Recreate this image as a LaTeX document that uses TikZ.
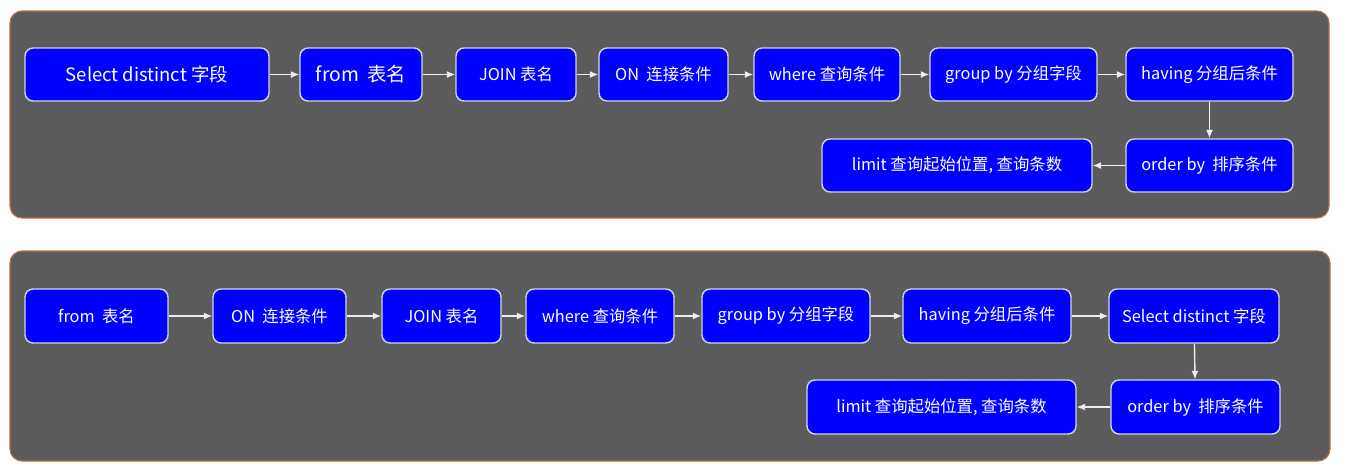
\documentclass[tikz,border=0pt]{standalone}
\usepackage{fontspec}
\usepackage{xcolor}
\usepackage{tikz}
\usetikzlibrary{arrows.meta}
\newfontfamily\cjk{Noto Sans CJK SC}

\definecolor{panelgray}{HTML}{5B5B5B}
\definecolor{paneledge}{HTML}{B8703F}
\definecolor{boxblue}{HTML}{0000FF}
\definecolor{boxedge}{HTML}{D4D4E6}
\definecolor{flowwhite}{HTML}{EEEEEE}

\tikzset{
  panel/.style = {fill=panelgray, draw=paneledge, line width=0.6pt, rounded corners=0.24cm},
  sqlbox/.style = {draw=boxedge, fill=boxblue, line width=0.8pt, rounded corners=0.16cm,
                   inner sep=0pt, text=white, font=\cjk\fontsize{9.3}{11}\selectfont},
  flow/.style = {draw=flowwhite, line width=0.8pt, -{Latex[length=1.7mm,width=1.4mm]}}
}

\begin{document}
\begin{tikzpicture}[x=0.02cm, y=-0.02cm]
   \fill[white] (0,0) rectangle (1353,471);
   \useasboundingbox (0,0) rectangle (1353,471);

   % panels
   \filldraw[panel] (10,11) rectangle (1329,218);
   \filldraw[panel] (10,251) rectangle (1330,461);

   % written order
   \node[sqlbox, minimum width=4.88cm, minimum height=1.06cm, font=\cjk\fontsize{10.5}{12}\selectfont] (t1) at (147,74.5) {Select distinct 字段};
   \node[sqlbox, minimum width=2.44cm, minimum height=1.06cm, font=\cjk\fontsize{11}{13}\selectfont] (t2) at (361,74.5) {from\ \ 表名};
   \node[sqlbox, minimum width=2.40cm, minimum height=1.06cm] (t3) at (516,74.5) {JOIN 表名};
   \node[sqlbox, minimum width=2.58cm, minimum height=1.06cm] (t4) at (663.5,74.5) {ON\ \ 连接条件};
   \node[sqlbox, minimum width=2.92cm, minimum height=1.06cm] (t5) at (827,74.5) {where 查询条件};
   \node[sqlbox, minimum width=3.34cm, minimum height=1.06cm] (t6) at (1013.5,74.5) {group by 分组字段};
   \node[sqlbox, minimum width=3.34cm, minimum height=1.06cm] (t7) at (1209.5,74.5) {having 分组后条件};
   \node[sqlbox, minimum width=3.34cm, minimum height=1.06cm] (t8) at (1209.5,165.5) {order by\ \ 排序条件};
   \node[sqlbox, minimum width=5.40cm, minimum height=1.06cm] (t9) at (957,165.5) {limit 查询起始位置,\ 查询条数};

   \draw[flow] (t1) -- (t2);
   \draw[flow] (t2) -- (t3);
   \draw[flow] (t3) -- (t4);
   \draw[flow] (t4) -- (t5);
   \draw[flow] (t5) -- (t6);
   \draw[flow] (t6) -- (t7);
   \draw[flow] (t7) -- (t8);
   \draw[flow] (t8) -- (t9);

   % execution order
   \node[sqlbox, minimum width=2.86cm, minimum height=1.08cm] (b1) at (96.5,316) {from\ \ 表名};
   \node[sqlbox, minimum width=2.66cm, minimum height=1.08cm] (b2) at (279.5,316) {ON\ \ 连接条件};
   \node[sqlbox, minimum width=2.38cm, minimum height=1.08cm] (b3) at (441.5,316) {JOIN 表名};
   \node[sqlbox, minimum width=2.96cm, minimum height=1.08cm] (b4) at (600,316) {where 查询条件};
   \node[sqlbox, minimum width=3.36cm, minimum height=1.08cm] (b5) at (786,316) {group by 分组字段};
   \node[sqlbox, minimum width=3.36cm, minimum height=1.08cm] (b6) at (987,316) {having 分组后条件};
   \node[sqlbox, minimum width=3.40cm, minimum height=1.08cm] (b7) at (1194,316) {Select distinct 字段};
   \node[sqlbox, minimum width=3.38cm, minimum height=1.08cm] (b8) at (1195.5,407) {order by\ \ 排序条件};
   \node[sqlbox, minimum width=5.38cm, minimum height=1.08cm] (b9) at (941.5,407) {limit 查询起始位置,\ 查询条数};

   \draw[flow] (b1) -- (b2);
   \draw[flow] (b2) -- (b3);
   \draw[flow] (b3) -- (b4);
   \draw[flow] (b4) -- (b5);
   \draw[flow] (b5) -- (b6);
   \draw[flow] (b6) -- (b7);
   \draw[flow] (b7) -- (b8);
   \draw[flow] (b8) -- (b9);
\end{tikzpicture}
\end{document}
